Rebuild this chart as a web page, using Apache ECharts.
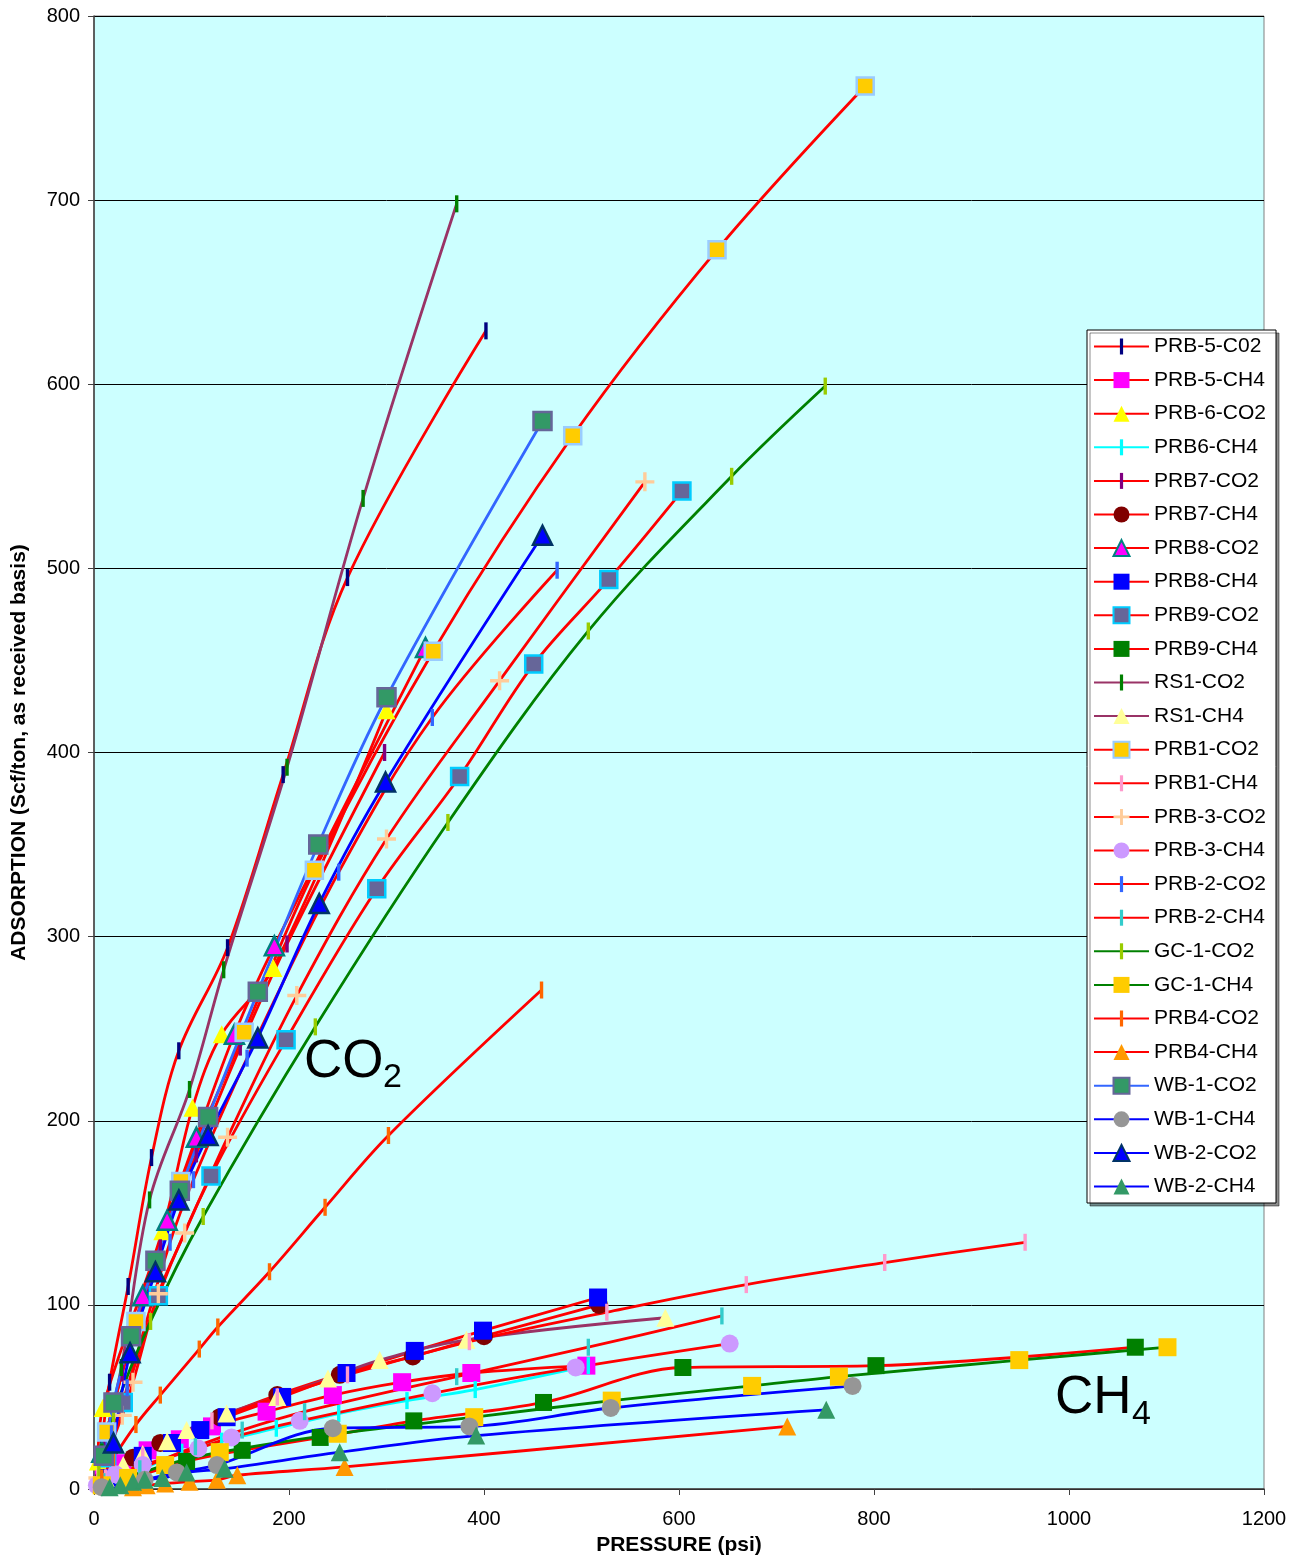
<!DOCTYPE html>
<html>
<head>
<meta charset="utf-8">
<title>Gas adsorption isotherms</title>
<script src="https://cdn.jsdelivr.net/npm/echarts/dist/echarts.min.js"></script>
<style>
  html, body { margin: 0; padding: 0; background: #ffffff; }
  #chart { width: 1300px; height: 1560px; }
</style>
</head>
<body>
<div id="chart"></div>
<script>
// Adsorption isotherms: [pressure (psi), adsorption (scf/ton, as received)]
const PRB5_CO2 = [[8,25],[16,58],[35,110],[59,180],[87,238],[137,294],[194,388],[260,495],[402,629]];
const PRB5_CH4 = [[10,6],[29,14],[55,21],[88,27],[121,34],[177,42],[245,51],[316,58],[387,63],[505,67]];
const PRB6_CO2 = [[4,15],[9,44],[70,140],[101,207],[131,247],[184,283],[300,423]];
const PRB6_CH4 = [[10,4],[46,10],[90,20],[131,26],[187,33],[251,41],[321,48],[391,54],[507,67]];
const PRB7_CO2 = [[10,25],[29,63],[68,131],[105,182],[150,240],[198,296],[298,400]];
const PRB7_CH4 = [[10,6],[40,17],[68,25],[129,39],[188,51],[252,62],[327,72],[400,83],[518,100]];
const PRB8_CO2 = [[8,20],[50,105],[75,146],[105,191],[144,247],[185,295],[340,457]];
const PRB8_CH4 = [[12,6],[50,18],[80,25],[109,32],[136,39],[193,50],[259,63],[329,75],[399,86],[517,104]];
const PRB9_CO2 = [[13,17],[30,47],[66,105],[120,170],[197,244],[290,326],[375,387],[451,448],[528,494],[603,542]];
const PRB9_CH4 = [[40,6],[95,15],[152,21],[232,28],[328,37],[461,47],[604,66],[802,67],[1068,77]];
const RS1_CO2  = [[8,20],[28,66],[57,157],[98,217],[133,282],[198,392],[276,538],[372,698]];
const RS1_CH4  = [[12,6],[30,13],[50,19],[75,26],[95,32],[136,41],[188,50],[240,60],[293,70],[382,81],[586,93]];
const PRB1_CO2 = [[13,31],[43,91],[89,167],[154,248],[226,336],[348,455],[491,572],[639,673],[791,762]];
const PRB1_CH4 = [[12,6],[50,18],[121,37],[188,50],[260,62],[385,80],[526,96],[669,111],[811,123],[955,134]];
const PRB3_CO2 = [[4,6],[29,40],[40,58],[66,106],[93,139],[137,191],[208,268],[300,353],[416,439],[565,547]];
const PRB3_CH4 = [[3,2],[22,8],[50,13],[107,22],[141,28],[211,37],[347,52],[494,66],[652,79]];
const PRB2_CO2 = [[18,30],[34,55],[78,134],[102,168],[157,234],[251,335],[347,419],[475,499]];
const PRB2_CH4 = [[10,4],[47,11],[104,23],[152,32],[216,42],[372,61],[507,77],[644,94]];
const GC1_CO2  = [[5,10],[20,41],[58,91],[112,148],[227,251],[363,362],[507,466],[654,550],[750,599]];
const GC1_CH4  = [[8,2],[35,6],[73,13],[129,20],[250,30],[390,39],[531,48],[675,56],[764,61],[949,70],[1101,77]];
const PRB4_CO2 = [[8,6],[20,17],[43,35],[68,51],[108,76],[127,88],[180,118],[237,153],[302,192],[459,271]];
const PRB4_CH4 = [[40,1],[54,2],[73,3],[98,4],[126,5],[147,7.5],[257,12],[711,34]];
const WB1_CO2  = [[10,18],[20,47],[38,83],[63,124],[88,162],[117,202],[168,270],[230,350],[300,430],[460,580]];
const WB1_CH4  = [[8,1],[52,5],[85,9],[126,13],[245,33],[385,34],[530,44],[778,56]];
const WB2_CO2  = [[20,25],[37,74],[63,118],[87,157],[117,192],[168,245],[231,318],[299,384],[460,518]];
const WB2_CH4  = [[16,1],[27,2],[40,4],[52,5],[70,6],[95,9],[134,11],[252,20],[392,29],[751,43]];

const seriesNames = [
  'PRB-5-C02','PRB-5-CH4','PRB-6-CO2','PRB6-CH4','PRB7-CO2','PRB7-CH4','PRB8-CO2','PRB8-CH4',
  'PRB9-CO2','PRB9-CH4','RS1-CO2','RS1-CH4','PRB1-CO2','PRB1-CH4','PRB-3-CO2','PRB-3-CH4',
  'PRB-2-CO2','PRB-2-CH4','GC-1-CO2','GC-1-CH4','PRB4-CO2','PRB4-CH4','WB-1-CO2','WB-1-CH4',
  'WB-2-CO2','WB-2-CH4'
];
const seriesData = [
  PRB5_CO2, PRB5_CH4, PRB6_CO2, PRB6_CH4, PRB7_CO2, PRB7_CH4, PRB8_CO2, PRB8_CH4,
  PRB9_CO2, PRB9_CH4, RS1_CO2, RS1_CH4, PRB1_CO2, PRB1_CH4, PRB3_CO2, PRB3_CH4,
  PRB2_CO2, PRB2_CH4, GC1_CO2, GC1_CH4, PRB4_CO2, PRB4_CH4, WB1_CO2, WB1_CH4,
  WB2_CO2, WB2_CH4
];

// Marker shapes: a thin vertical bar and a plus sign, both inside a square box
const BAR  = 'path://M0,0L0,0M10,10L10,10M4,0H6V10H4Z';
const PLUS = 'path://M4.1,0H5.9V4.1H10V5.9H5.9V10H4.1V5.9H0V4.1H4.1Z';

const RED = '#FF0000', MAUVE = '#993366', GREEN = '#008000', BLUE = '#0000FF', LBLUE = '#3366FF', CYAN = '#00FFFF';

// Per-series drawing style (line colour, marker shape, size, fill, border)
const styles = [
  { line: RED,   sym: BAR,        size: 17, fill: '#000080' },
  { line: RED,   sym: 'rect',     size: 18, fill: '#FF00FF' },
  { line: RED,   sym: 'triangle', size: 18, fill: '#FFFF00' },
  { line: CYAN,  sym: BAR,        size: 17, fill: '#00FFFF' },
  { line: RED,   sym: BAR,        size: 17, fill: '#800080' },
  { line: RED,   sym: 'circle',   size: 18, fill: '#800000' },
  { line: RED,   sym: 'triangle', size: 19, fill: '#FF00FF', border: '#008080', bw: 2.5 },
  { line: RED,   sym: 'rect',     size: 18, fill: '#0000FF' },
  { line: RED,   sym: 'rect',     size: 17, fill: '#666699', border: '#00CCFF', bw: 2.5 },
  { line: RED,   sym: 'rect',     size: 17, fill: '#008000' },
  { line: MAUVE, sym: BAR,        size: 17, fill: '#008000' },
  { line: MAUVE, sym: 'triangle', size: 18, fill: '#FFFF99' },
  { line: RED,   sym: 'rect',     size: 17, fill: '#FFCC00', border: '#99CCFF', bw: 2.5 },
  { line: RED,   sym: BAR,        size: 17, fill: '#FF99CC' },
  { line: RED,   sym: PLUS,       size: 19, fill: '#FFCC99' },
  { line: RED,   sym: 'circle',   size: 18, fill: '#CC99FF' },
  { line: RED,   sym: BAR,        size: 17, fill: '#3366FF' },
  { line: RED,   sym: BAR,        size: 17, fill: '#33CCCC' },
  { line: GREEN, sym: BAR,        size: 17, fill: '#99CC00' },
  { line: GREEN, sym: 'rect',     size: 18, fill: '#FFCC00' },
  { line: RED,   sym: BAR,        size: 17, fill: '#FF6600' },
  { line: RED,   sym: 'triangle', size: 18, fill: '#FF9900' },
  { line: LBLUE, sym: 'rect',     size: 18, fill: '#339966', border: '#666699', bw: 2.5 },
  { line: BLUE,  sym: 'circle',   size: 18, fill: '#969696' },
  { line: BLUE,  sym: 'triangle', size: 19, fill: '#0000FF', border: '#003366', bw: 2.5 },
  { line: BLUE,  sym: 'triangle', size: 18, fill: '#339966' }
];

const FONT = '"Liberation Sans", Arial, Helvetica, sans-serif';

const series = seriesNames.map((name, i) => {
  const s = styles[i];
  return {
    name: name,
    type: 'line',
    data: seriesData[i],
    smooth: 0.35,
    symbol: s.sym,
    symbolSize: s.size,
    symbolKeepAspect: true,
    showSymbol: true,
    lineStyle: { color: s.line, width: 2.8 },
    itemStyle: {
      color: s.fill,
      borderColor: s.border || s.fill,
      borderWidth: s.bw || 0
    },
    emphasis: { disabled: true },
    z: 2
  };
});

const chart = echarts.init(document.getElementById('chart'), null, { renderer: 'canvas' });

chart.setOption({
  animation: false,
  backgroundColor: '#ffffff',
  textStyle: { fontFamily: FONT },
  grid: {
    left: 94, right: 36, top: 16, bottom: 71,
    containLabel: false,
    outerBoundsMode: 'none',
    show: true,
    backgroundColor: '#CCFFFF',
    borderColor: '#808080',
    borderWidth: 1
  },
  xAxis: {
    type: 'value',
    min: 0, max: 1200, interval: 200,
    name: 'PRESSURE (psi)',
    nameLocation: 'middle',
    nameGap: 46,
    nameTextStyle: { fontFamily: FONT, fontSize: 21, fontWeight: 'bold', color: '#000' },
    axisLine: { show: true, onZero: false, lineStyle: { color: '#404040', width: 1.5 } },
    axisTick: { show: true, inside: false, length: 6, lineStyle: { color: '#404040' } },
    axisLabel: { fontFamily: FONT, fontSize: 20, color: '#000', margin: 20, formatter: v => String(v) },
    splitLine: { show: false }
  },
  yAxis: {
    type: 'value',
    min: 0, max: 800, interval: 100,
    name: 'ADSORPTION (Scf/ton, as received basis)',
    nameLocation: 'middle',
    nameGap: 64,
    nameTextStyle: { fontFamily: FONT, fontSize: 21, fontWeight: 'bold', color: '#000' },
    axisLine: { show: true, onZero: false, lineStyle: { color: '#404040', width: 1.5 } },
    axisTick: { show: true, inside: false, length: 6, lineStyle: { color: '#404040' } },
    axisLabel: { fontFamily: FONT, fontSize: 20, color: '#000', margin: 14, formatter: v => String(v) },
    splitLine: { show: true, lineStyle: { color: '#000000', width: 1 } }
  },
  legend: {
    show: true,
    orient: 'vertical',
    left: 1087,
    top: 330,
    itemWidth: 55,
    itemHeight: 20,
    itemGap: 12.6,
    padding: [6, 10, 6, 6],
    backgroundColor: '#ffffff',
    borderColor: '#000000',
    borderWidth: 1,
    shadowColor: 'rgba(0,0,0,0.45)',
    shadowOffsetX: 3,
    shadowOffsetY: 3,
    shadowBlur: 0,
    selectedMode: false,
    textStyle: { fontFamily: FONT, fontSize: 21, color: '#000' },
    data: seriesNames
  },
  graphic: [
    { type: 'text', x: 304, y: 1062, z: 10,
      style: { text: 'CO', font: '53px ' + FONT, fill: '#000', verticalAlign: 'middle', align: 'left' } },
    { type: 'text', x: 383, y: 1078, z: 10,
      style: { text: '2', font: '34px ' + FONT, fill: '#000', verticalAlign: 'middle', align: 'left' } },
    { type: 'text', x: 1055, y: 1398, z: 10,
      style: { text: 'CH', font: '53px ' + FONT, fill: '#000', verticalAlign: 'middle', align: 'left' } },
    { type: 'text', x: 1132, y: 1415, z: 10,
      style: { text: '4', font: '34px ' + FONT, fill: '#000', verticalAlign: 'middle', align: 'left' } }
  ],
  series: series
});
</script>
</body>
</html>
